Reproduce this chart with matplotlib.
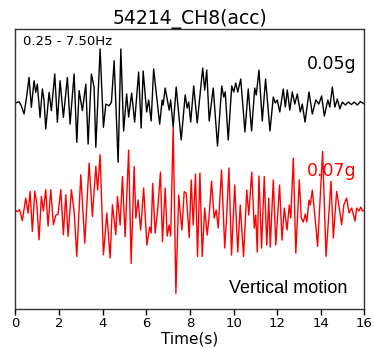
import numpy as np
import matplotlib
matplotlib.use("Agg")
import matplotlib.pyplot as plt

# Channel 8 acceleration, band-passed 0.25-7.50 Hz (time in s, acceleration in g)
black_t = [0.000, 0.170, 0.275, 0.400, 0.523, 0.628, 0.734, 0.858, 0.936, 1.009,
           1.133, 1.239, 1.317, 1.394, 1.546, 1.651, 1.807, 1.927, 2.050, 2.202,
           2.385, 2.509, 2.693, 2.817, 2.922, 3.073, 3.229, 3.335, 3.486, 3.610,
           3.688, 3.885, 4.037, 4.147, 4.298, 4.404, 4.528, 4.711, 4.835, 4.963,
           5.101, 5.193, 5.330, 5.468, 5.651, 5.766, 5.858, 6.018, 6.110, 6.225,
           6.339, 6.615, 6.729, 6.775, 6.867, 7.050, 7.119, 7.234, 7.372, 7.601,
           7.784, 7.876, 7.945, 8.037, 8.174, 8.335, 8.587, 8.679, 8.771, 8.885,
           9.069, 9.266, 9.459, 9.550, 9.619, 9.757, 9.917, 10.009, 10.101, 10.193,
           10.330, 10.523, 10.674, 10.826, 10.972, 11.041, 11.165, 11.317, 11.468, 11.670,
           11.821, 11.913, 12.005, 12.119, 12.280, 12.372, 12.463, 12.578, 12.693, 12.807,
           12.922, 13.060, 13.151, 13.275, 13.459, 13.610, 13.771, 13.908, 14.037, 14.161,
           14.321, 14.413, 14.528, 14.642, 14.757, 14.872, 14.986, 15.124, 15.261, 15.399,
           15.537, 15.674, 15.812, 16.000]
black_acc = [-0.0004, 0.0007, -0.0027, -0.0096, 0.0057, 0.0210, -0.0040, 0.0182, 0.0085, 0.0154,
             -0.0124, 0.0113, 0.0015, -0.0221, 0.0085, -0.0068, 0.0238, -0.0165, 0.0182, -0.0124,
             0.0210, -0.0180, 0.0238, -0.0332, 0.0099, -0.0068, 0.0154, -0.0347, 0.0238, 0.0127,
             -0.0374, 0.0447, -0.0207, -0.0013, -0.0027, 0.0002, 0.0349, -0.0499, 0.0447, -0.0238,
             0.0071, -0.0121, 0.0079, -0.0163, 0.0255, -0.0213, 0.0263, -0.0079, 0.0021, -0.0154,
             0.0280, -0.0180, 0.0021, -0.0021, 0.0121, -0.0063, 0.0021, -0.0205, 0.0129, -0.0313,
             0.0063, -0.0046, 0.0004, -0.0163, 0.0138, -0.0171, 0.0288, 0.0104, 0.0271, -0.0154,
             0.0121, -0.0363, 0.0138, 0.0046, 0.0088, -0.0313, 0.0138, 0.0088, 0.0163, 0.0088,
             0.0196, -0.0246, 0.0113, -0.0238, 0.0121, 0.0063, 0.0271, -0.0154, 0.0196, -0.0238,
             0.0046, -0.0004, 0.0021, -0.0079, 0.0113, -0.0038, 0.0104, -0.0063, 0.0088, -0.0013,
             0.0071, -0.0079, -0.0013, -0.0163, 0.0088, -0.0096, 0.0021, -0.0013, 0.0054, -0.0113,
             0.0021, -0.0038, 0.0129, -0.0038, 0.0029, -0.0054, 0.0004, -0.0021, 0.0004, -0.0017,
             0.0004, -0.0021, 0.0008, -0.0013]

red_t = [0.000, 0.101, 0.193, 0.321, 0.477, 0.583, 0.674, 0.780, 0.890, 0.982,
         1.087, 1.193, 1.284, 1.394, 1.500, 1.624, 1.743, 1.853, 1.959, 2.083,
         2.202, 2.312, 2.417, 2.569, 2.693, 2.817, 3.000, 3.183, 3.381, 3.532,
         3.688, 3.771, 3.885, 4.037, 4.193, 4.344, 4.450, 4.606, 4.679, 4.803,
         4.908, 5.032, 5.193, 5.307, 5.445, 5.523, 5.628, 5.743, 5.881, 6.028,
         6.156, 6.225, 6.294, 6.408, 6.523, 6.651, 6.743, 6.867, 6.959, 7.050,
         7.119, 7.234, 7.358, 7.486, 7.633, 7.739, 7.830, 7.968, 8.060, 8.151,
         8.257, 8.349, 8.459, 8.564, 8.679, 8.794, 8.885, 8.991, 9.115, 9.206,
         9.298, 9.450, 9.596, 9.688, 9.789, 9.908, 10.055, 10.193, 10.307, 10.459,
         10.606, 10.697, 10.835, 10.950, 11.018, 11.087, 11.165, 11.284, 11.408, 11.523,
         11.615, 11.683, 11.821, 11.936, 12.110, 12.220, 12.326, 12.450, 12.555, 12.624,
         12.739, 12.853, 13.014, 13.106, 13.197, 13.289, 13.358, 13.459, 13.518, 13.610,
         13.725, 13.853, 14.083, 14.239, 14.468, 14.573, 14.725, 14.826, 14.954, 15.055,
         15.183, 15.294, 15.413, 15.569, 15.642, 15.743, 15.835, 15.904, 16.000]
red_acc = [0.0000, -0.0013, 0.0004, -0.0089, 0.0100, -0.0025, 0.0156, -0.0178, 0.0156, 0.0058,
           -0.0248, 0.0114, -0.0008, 0.0170, -0.0134, 0.0170, -0.0123, -0.0044, -0.0033, 0.0170,
           -0.0206, 0.0128, -0.0220, 0.0170, -0.0008, -0.0387, 0.0295, -0.0276, 0.0392, -0.0053,
           0.0365, 0.0167, 0.0462, -0.0373, -0.0025, -0.0401, 0.0044, -0.0206, 0.0114, -0.0125,
           0.0281, -0.0223, 0.0501, -0.0445, 0.0365, -0.0067, 0.0084, -0.0167, 0.0184, -0.0292,
           -0.0142, -0.0192, 0.0223, -0.0192, 0.0000, 0.0317, -0.0265, 0.0184, -0.0217, -0.0125,
           -0.0217, 0.0693, -0.0696, 0.0125, -0.0167, 0.0154, 0.0142, -0.0230, 0.0251, -0.0125,
           0.0301, -0.0388, 0.0309, -0.0388, 0.0017, -0.0209, -0.0042, 0.0242, -0.0067, 0.0000,
           -0.0150, 0.0334, -0.0317, -0.0042, 0.0351, -0.0376, 0.0209, -0.0351, 0.0042, -0.0388,
           0.0167, -0.0042, 0.0317, -0.0150, -0.0042, -0.0351, 0.0284, -0.0317, 0.0280, -0.0292,
           0.0100, -0.0309, 0.0251, -0.0292, 0.0209, -0.0251, 0.0017, -0.0167, 0.0042, -0.0067,
           0.0434, -0.0359, 0.0251, -0.0067, -0.0100, -0.0033, -0.0100, 0.0084, 0.0042, 0.0167,
           -0.0042, -0.0303, 0.0490, -0.0388, 0.0240, -0.0234, 0.0156, 0.0042, -0.0123, 0.0042,
           0.0100, -0.0025, 0.0017, -0.0092, 0.0017, -0.0008, 0.0025, -0.0008, 0.0000]

title = "54214_CH8(acc)"
band_label = "0.25 - 7.50Hz"
black_peak_label = "0.05g"
red_peak_label = "0.07g"
motion_label = "Vertical motion"
x_ticks = [0, 2, 4, 6, 8, 10, 12, 14, 16]

# vertical offsets separating the two traces (in g)
black_offset = 0.0
red_offset = -0.0898

fig = plt.figure(figsize=(3.74, 3.48), dpi=100)
ax = fig.add_axes([0.041, 0.1135, 0.9335, 0.8032])

ax.plot(black_t, np.array(black_acc) + black_offset, color="black", lw=1.0,
        solid_joinstyle="round")
ax.plot(red_t, np.array(red_acc) + red_offset, color="red", lw=1.0,
        solid_joinstyle="round")

ax.set_xlim(0, 16)
ax.set_ylim(-0.1720, 0.0614)
ax.set_xticks(x_ticks)
ax.set_xticklabels([str(v) for v in x_ticks], fontsize=9.5)
ax.set_yticks([])
ax.tick_params(axis="x", direction="out", length=4, width=1, pad=2)
ax.set_xlabel("Time(s)", fontsize=11, labelpad=1)
ax.set_title(title, fontsize=13.5, pad=3)

for sp in ax.spines.values():
    sp.set_linewidth(1.0)
    sp.set_color("#333333")

ax.text(0.021, 0.941, band_label, transform=ax.transAxes, fontsize=9.5,
        ha="left", va="baseline")
ax.text(0.9765, 0.857, black_peak_label, transform=ax.transAxes, fontsize=12.5,
        ha="right", va="baseline", color="black")
ax.text(0.9776, 0.474, red_peak_label, transform=ax.transAxes, fontsize=12.5,
        ha="right", va="baseline", color="red")
ax.text(0.951, 0.0555, motion_label, transform=ax.transAxes, fontsize=13,
        ha="right", va="baseline", family="Liberation Sans")

fig.savefig("out.png", dpi=100)
